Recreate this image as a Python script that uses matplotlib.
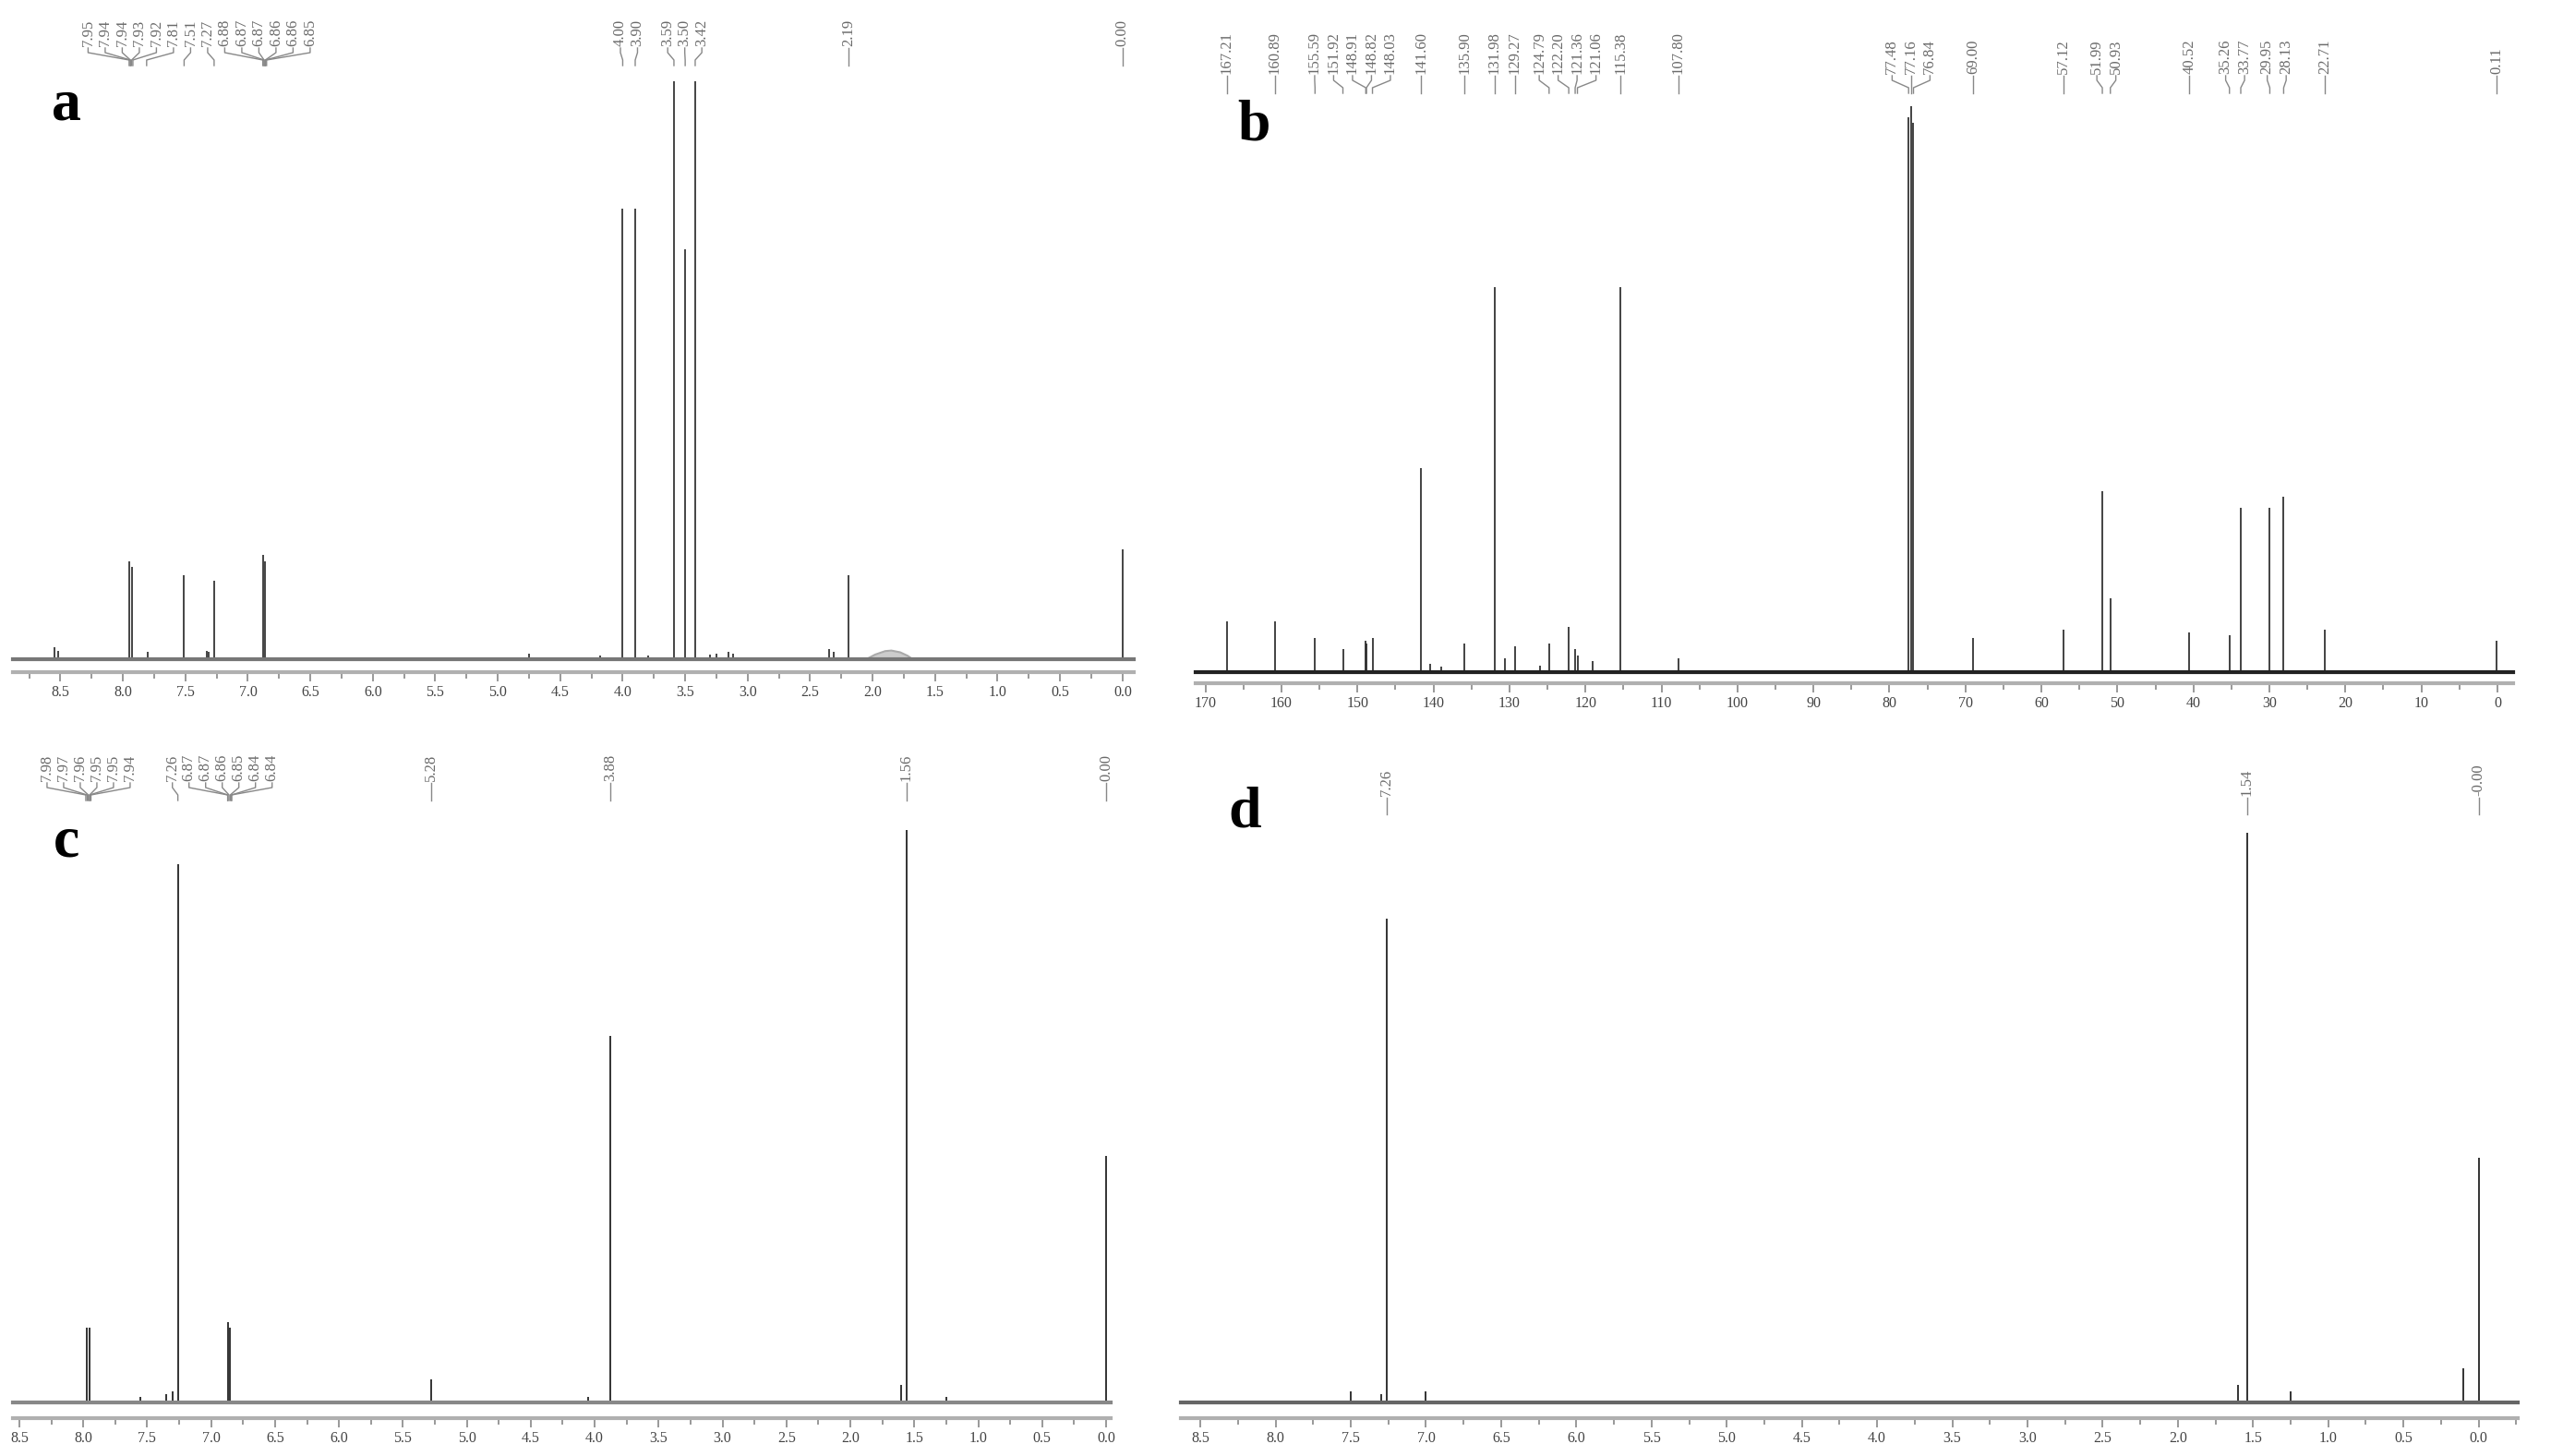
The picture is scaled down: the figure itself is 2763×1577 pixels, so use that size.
import matplotlib
matplotlib.use("Agg")
import matplotlib.pyplot as plt
from matplotlib.ticker import MultipleLocator, FormatStrFormatter

W, H = 2763, 1577

# panel a - 1H spectrum
a_ppm = [8.55, 8.52, 7.95, 7.93, 7.80, 7.51, 7.33, 7.31, 7.27, 6.88, 6.86,
         4.75, 4.18, 4.00, 3.90, 3.80, 3.59, 3.50, 3.42, 3.30, 3.25, 3.15, 3.12,
         2.35, 2.31, 2.19, 0.00]
a_int = [0.02, 0.015, 0.17, 0.16, 0.012, 0.145, 0.015, 0.012, 0.135, 0.18, 0.17,
         0.01, 0.006, 0.78, 0.78, 0.006, 1.0, 0.71, 1.0, 0.008, 0.01, 0.012, 0.01,
         0.018, 0.012, 0.145, 0.19]
a_hump_x = [2.05, 1.98, 1.90, 1.85, 1.78, 1.72, 1.68]
a_hump_y = [0.0, 0.008, 0.014, 0.015, 0.012, 0.006, 0.0]
a_labels = ["7.95", "7.94", "7.94", "7.93", "7.92", "7.81", "7.51",
            "7.27", "6.88", "6.87", "6.87", "6.86", "6.86", "6.85",
            "4.00", "3.90", "3.59", "3.50", "3.42", "2.19", "0.00"]

# panel b - 13C spectrum
b_ppm = [167.21, 160.89, 155.59, 151.92, 148.91, 148.82, 148.03, 141.60, 140.4, 139.0,
         135.90, 131.98, 130.6, 129.27, 126.0, 124.79, 122.20, 121.36, 121.06, 119.0,
         115.38, 107.80, 77.48, 77.16, 76.84, 69.00, 57.12, 51.99, 50.93,
         40.52, 35.26, 33.77, 29.95, 28.13, 22.71, 0.11]
b_int = [0.09, 0.09, 0.06, 0.04, 0.055, 0.05, 0.06, 0.36, 0.015, 0.01,
         0.05, 0.68, 0.025, 0.045, 0.012, 0.05, 0.08, 0.04, 0.03, 0.02,
         0.68, 0.025, 0.98, 1.0, 0.97, 0.06, 0.075, 0.32, 0.13,
         0.07, 0.065, 0.29, 0.29, 0.31, 0.075, 0.055]
b_labels = ["167.21", "160.89", "155.59", "151.92", "148.91", "148.82", "148.03",
            "141.60", "135.90", "131.98", "129.27", "124.79", "122.20", "121.36",
            "121.06", "115.38", "107.80", "77.48", "77.16", "76.84", "69.00",
            "57.12", "51.99", "50.93", "40.52", "35.26", "33.77", "29.95",
            "28.13", "22.71", "0.11"]

# panel c - 1H spectrum
c_ppm = [7.97, 7.95, 7.55, 7.35, 7.30, 7.26, 6.87, 6.85, 5.28, 4.05, 3.88, 1.60, 1.56, 1.25, 0.00]
c_int = [0.13, 0.13, 0.01, 0.015, 0.02, 0.94, 0.14, 0.13, 0.04, 0.01, 0.64, 0.03, 1.0, 0.01, 0.43]
c_labels = ["7.98", "7.97", "7.96", "7.95", "7.95", "7.94", "7.26",
            "6.87", "6.87", "6.86", "6.85", "6.84", "6.84",
            "5.28", "3.88", "1.56", "0.00"]

# panel d - 1H spectrum
d_ppm = [7.50, 7.30, 7.26, 7.00, 1.60, 1.54, 1.25, 0.10, 0.00]
d_int = [0.02, 0.015, 0.85, 0.02, 0.03, 1.0, 0.02, 0.06, 0.43]
d_labels = ["7.26", "1.54", "-0.00"]

fig = plt.figure(figsize=(W / 100, H / 100), dpi=100)
over = fig.add_axes([0, 0, 1, 1], zorder=5)
over.set_xlim(0, W)
over.set_ylim(H, 0)
over.axis("off")
over.patch.set_visible(False)

label_font = dict(family="Liberation Serif", size=12, color="#6a6a6a")


def spread(xs, gap):
    # put labels at least gap px apart, centred on their peaks
    clusters = [[i] for i in range(len(xs))]
    while True:
        pos = []
        for cl in clusters:
            c = sum(xs[i] for i in cl) / len(cl)
            n = len(cl)
            pos.append([c + (k - (n - 1) / 2) * gap for k in range(n)])
        merged = False
        for k in range(len(clusters) - 1):
            if pos[k][-1] + gap > pos[k + 1][0] + 0.01:
                clusters[k] = clusters[k] + clusters[k + 1]
                del clusters[k + 1]
                merged = True
                break
        if not merged:
            break
    out = []
    for p in pos:
        out += p
    return out


def panel(l, r, top, base, xlim, major, minor, fmt, ppm, ints, labels,
          ly, gap, letter, lpos, off, color, lw, base_col, hump=None):
    ax = fig.add_axes([l / W, 1 - base / H, (r - l) / W, (base - top) / H])
    ax.set_xlim(*xlim)
    ax.set_ylim(0, 1)
    ax.vlines(ppm, 0, ints, color=color, lw=lw, clip_on=False)
    if hump is not None:
        ax.fill_between(hump[0], 0, hump[1], color="#cccccc", lw=0)
        ax.plot(hump[0], hump[1], color="#aaaaaa", lw=1.5)
    ax.axhline(0, color=base_col, lw=3, clip_on=False)
    for s in ["left", "right", "top"]:
        ax.spines[s].set_visible(False)
    ax.spines["bottom"].set_position(("outward", off))
    ax.spines["bottom"].set_color("#b0b0b0")
    ax.spines["bottom"].set_linewidth(3)
    ax.set_yticks([])
    ax.xaxis.set_major_locator(MultipleLocator(major))
    ax.xaxis.set_minor_locator(MultipleLocator(minor))
    ax.xaxis.set_major_formatter(FormatStrFormatter(fmt))
    ax.tick_params(axis="x", which="both", direction="out", color="#888888",
                   width=1.2, labelsize=11.5, labelcolor="#444444", pad=3)
    ax.tick_params(axis="x", which="major", length=7)
    ax.tick_params(axis="x", which="minor", length=5)
    for t in ax.get_xticklabels():
        t.set_family("Liberation Serif")
    ax.patch.set_visible(False)

    # peak labels with connector lines (pixel coords on overlay)
    targets = [ax.transData.transform((abs(float(s)), 0))[0] for s in labels]
    order = sorted(range(len(labels)), key=lambda i: targets[i])
    tx = [targets[i] for i in order]
    lx = spread(tx, gap)
    y0, y1, y2, y3 = ly
    for j, i in enumerate(order):
        over.text(lx[j], y0, labels[i], rotation=90, ha="center", va="bottom",
                  **label_font)
        over.plot([lx[j], lx[j], tx[j], tx[j]], [y0 + 2, y1, y2, y3],
                  color="#888888", lw=1)
    over.text(lpos[0], lpos[1], letter, ha="center", va="center",
              family="Liberation Serif", weight="bold", size=46)
    return ax


panel(14, 1228, 88, 714, (8.88, -0.09), 0.5, 0.25, "%.1f", a_ppm, a_int, a_labels,
      (50, 57, 65, 71), 18.5, "a", (72, 115), 10, "#444444", 1.4, "#777777",
      hump=(a_hump_x, a_hump_y))
panel(1295, 2722, 115, 728, (171.3, -2.07), 10, 5, "%d", b_ppm, b_int, b_labels,
      (80, 87, 95, 101), 20.5, "b", (1358, 137), 8.5, "#222222", 1.2, "#222222")
panel(14, 1203, 899, 1519, (8.55, -0.036), 0.5, 0.25, "%.1f", c_ppm, c_int, c_labels,
      (846, 853, 861, 867), 18, "c", (72, 913), 12, "#333333", 1.4, "#888888")
panel(1279, 2727, 902, 1519, (8.63, -0.26), 0.5, 0.25, "%.1f", d_ppm, d_int, d_labels,
      (862, 869, 876, 882), 18, "d", (1348, 881), 12, "#333333", 1.4, "#666666")

fig.savefig("out.png", dpi=100, facecolor="white")
